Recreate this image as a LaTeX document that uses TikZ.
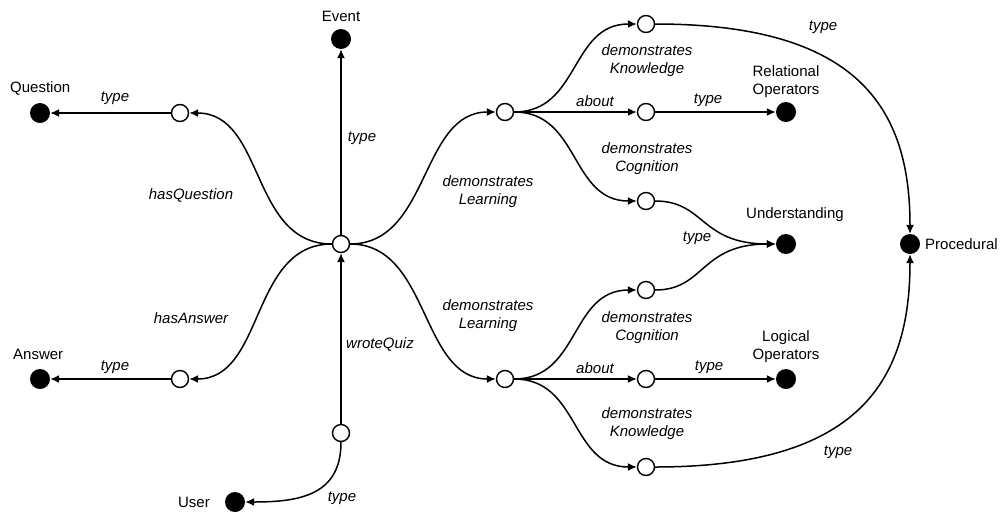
\documentclass[tikz,border=0pt]{standalone}
\usepackage{fontspec}
\setmainfont{Liberation Sans}
\usetikzlibrary{arrows.meta}
\begin{document}
\begin{tikzpicture}[x=1pt,y=-1pt,
  every node/.style={font=\fontsize{15}{18}\selectfont},
  opn/.style={circle,draw,fill=white,minimum size=17pt,inner sep=0pt,line width=1.4pt},
  ful/.style={circle,fill=black,minimum size=20pt,inner sep=0pt},
  arr/.style={line width=1.5pt,-{Latex[length=9pt,width=8pt]}},
  lbl/.style={font=\fontsize{15}{18}\selectfont\itshape,align=center,inner sep=0pt},
  cls/.style={font=\fontsize{15}{18}\selectfont,align=center,inner sep=0pt}]
\useasboundingbox (0,0) rectangle (1000,512);
% nodes
\node[opn] (C) at (341,244) {};
\node[ful] (E) at (341,39) {};
\node[opn] (Qo) at (180,113) {};
\node[ful] (Q) at (40,113) {};
\node[opn] (Ao) at (180,379) {};
\node[ful] (A) at (40,379) {};
\node[opn] (W) at (341,433) {};
\node[ful] (U) at (235,502) {};
\node[opn] (L1) at (505,112) {};
\node[opn] (L2) at (505,379) {};
\node[opn] (K1) at (646,24) {};
\node[opn] (R1) at (646,112) {};
\node[opn] (G1) at (646,201) {};
\node[opn] (G2) at (646,290) {};
\node[opn] (R2) at (646,379) {};
\node[opn] (K2) at (646,467) {};
\node[ful] (RO) at (786,112) {};
\node[ful] (UN) at (786,244) {};
\node[ful] (LO) at (786,379) {};
\node[ful] (P) at (910,244) {};
% class labels
\node[cls] (tE) at (341,16) {Event};
\node[cls,anchor=west] (tQ) at (10,88) {Question};
\node[cls,anchor=west] (tA) at (13,354) {Answer};
\node[cls] (tU) at (194,502) {User};
\node[cls] (tRO) at (786,82) {Relational\\Operators};
\node[cls,anchor=west] (tUN) at (746,215) {Understanding};
\node[cls] (tLO) at (786,347) {Logical\\Operators};
\node[cls,anchor=west] (tP) at (925,244) {Procedural};
% edges
\draw[arr] (C) -- (E);
\draw[arr] (W) -- (C);
\draw[arr] (Qo) -- (Q);
\draw[arr] (Ao) -- (A);
\draw[arr] (C) .. controls (250,244) and (265,113) .. (Qo);
\draw[arr] (C) .. controls (250,244) and (265,379) .. (Ao);
\draw[arr] (W) .. controls (341,495) and (300,502) .. (U);
\draw[arr] (C) .. controls (430,244) and (420,112) .. (L1);
\draw[arr] (C) .. controls (430,244) and (420,379) .. (L2);
\draw[arr] (L1) .. controls (580,112) and (570,24) .. (K1);
\draw[arr] (L1) -- (R1);
\draw[arr] (L1) .. controls (580,112) and (570,201) .. (G1);
\draw[arr] (L2) .. controls (580,379) and (570,290) .. (G2);
\draw[arr] (L2) -- (R2);
\draw[arr] (L2) .. controls (580,379) and (570,467) .. (K2);
\draw[arr] (R1) -- (RO);
\draw[arr] (R2) -- (LO);
\draw[arr] (G1) .. controls (705,201) and (700,244) .. (UN);
\draw[arr] (G2) .. controls (705,290) and (700,244) .. (UN);
\draw[arr] (K1) .. controls (860,24) and (910,110) .. (P);
\draw[arr] (K2) .. controls (860,467) and (910,380) .. (P);
% edge labels
\node[lbl] at (362,138) {type};
\node[lbl] at (380,344) {wroteQuiz};
\node[lbl] at (115,98) {type};
\node[lbl] at (115,367) {type};
\node[lbl] at (191,195) {hasQuestion};
\node[lbl] at (191,318) {hasAnswer};
\node[lbl] at (342,498) {type};
\node[lbl] at (488,192) {demonstrates\\Learning};
\node[lbl] at (488,316) {demonstrates\\Learning};
\node[lbl] at (647,61) {demonstrates\\Knowledge};
\node[lbl] at (595,101) {about};
\node[lbl] at (647,159) {demonstrates\\Cognition};
\node[lbl] at (647,328) {demonstrates\\Cognition};
\node[lbl] at (595,368) {about};
\node[lbl] at (647,424) {demonstrates\\Knowledge};
\node[lbl] at (708,100) {type};
\node[lbl] at (697,238) {type};
\node[lbl] at (709,367) {type};
\node[lbl] at (823,27) {type};
\node[lbl] at (838,452) {type};
\end{tikzpicture}
\end{document}
